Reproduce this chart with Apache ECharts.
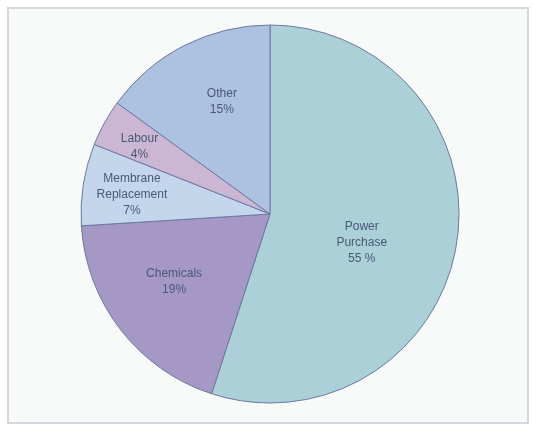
<!DOCTYPE html>
<html>
<head>
<meta charset="utf-8">
<script src="https://cdn.jsdelivr.net/npm/echarts@6/dist/echarts.min.js"></script>
<style>
  html, body { margin: 0; padding: 0; background: #ffffff; }
  #echarts { width: 533px; height: 426px; }
</style>
</head>
<body>
<div id="echarts"></div>
<script>
// cost breakdown data
var names = ['Power\nPurchase', 'Chemicals', 'Membrane\nReplacement', 'Labour', 'Other'];
var shares = [55, 19, 7, 4, 15];
var pctText = ['55 %', '19%', '7%', '4%', '15%'];
var colors = ['#abd0d8', '#a598c4', '#c4d6ec', '#cbb6d4', '#adc2e0'];
// how far out each label sits, as a share of the radius, plus a small nudge
var labelRadius = [0.54, 0.64, 0.74, 0.79, 0.65];
var labelNudge = [[-12, 12], [2, -8], [3, 3], [3, 6], [9, 0]];

var cx = 270, cy = 214, r = 189;

var myEChart = echarts.init(document.getElementById('echarts'));

var total = shares.reduce(function (a, b) { return a + b; }, 0);
var seriesData = [];
var acc = 0;
for (var i = 0; i < shares.length; i++) {
    var mid = (acc + shares[i] / 2) / total * 2 * Math.PI;
    acc += shares[i];
    var shift = (labelRadius[i] - 0.5) * r;
    seriesData.push({
        name: names[i],
        value: shares[i],
        itemStyle: { color: colors[i] },
        label: {
            formatter: names[i] + '\n' + pctText[i],
            offset: [shift * Math.sin(mid) + labelNudge[i][0], -shift * Math.cos(mid) + labelNudge[i][1]]
        }
    });
}

var chartOption = {
    animation: false,
    graphic: [{
        type: 'rect',
        z: -10,
        shape: { x: 8, y: 8, width: 520, height: 415 },
        style: { fill: '#f8f9f9', stroke: '#d6d6de', lineWidth: 2 }
    }],
    series: [{
        type: 'pie',
        center: [cx, cy],
        radius: [0, r],
        startAngle: 90,
        clockwise: true,
        itemStyle: { borderColor: '#6b7aa3', borderWidth: 1 },
        label: {
            position: 'inside',
            color: '#4a5878',
            fontFamily: 'Liberation Sans, Arial, sans-serif',
            fontSize: 12,
            lineHeight: 16,
            align: 'center'
        },
        labelLine: { show: false },
        emphasis: { disabled: true },
        data: seriesData
    }]
};

myEChart.setOption(chartOption);
</script>
</body>
</html>
